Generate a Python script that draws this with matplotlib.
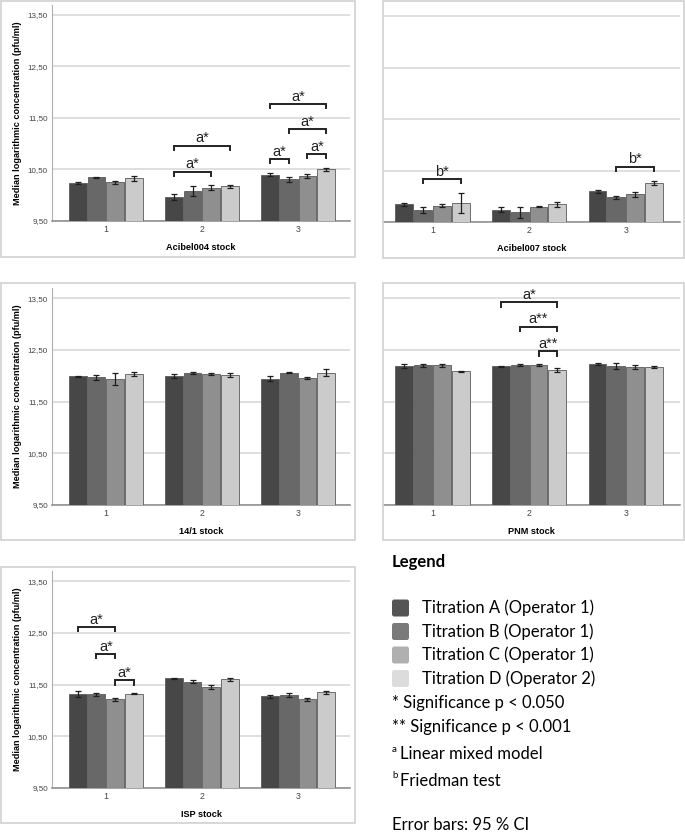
import matplotlib
matplotlib.use("Agg")
import matplotlib.pyplot as plt
from matplotlib.patches import Rectangle, FancyBboxPatch
import numpy as np

W, H = 685, 839

stocks = ["1", "2", "3"]
titrations = ["Titration A (Operator 1)", "Titration B (Operator 1)",
              "Titration C (Operator 1)", "Titration D (Operator 2)"]
y_ticks = [9.5, 10.5, 11.5, 12.5, 13.5]
y_tick_labels = ["9,50", "10,50", "11,50", "12,50", "13,50"]

# median log concentration per stock (rows) and titration (cols), with 95% CI half width
acibel004_vals = [[10.24, 10.35, 10.25, 10.33], [9.96, 10.08, 10.15, 10.17], [10.40, 10.31, 10.37, 10.50]]
acibel004_err = [[0.02, 0.01, 0.03, 0.05], [0.06, 0.10, 0.05, 0.02], [0.03, 0.05, 0.04, 0.02]]
acibel007_vals = [[9.84, 9.74, 9.82, 9.87], [9.74, 9.69, 9.80, 9.84], [10.10, 9.98, 10.04, 10.25]]
acibel007_err = [[0.03, 0.06, 0.03, 0.20], [0.05, 0.11, 0.01, 0.04], [0.03, 0.03, 0.05, 0.04]]
s14_1_vals = [[11.99, 11.97, 11.94, 12.03], [12.00, 12.05, 12.03, 12.01], [11.94, 12.06, 11.96, 12.06]]
s14_1_err = [[0.01, 0.05, 0.12, 0.04], [0.04, 0.02, 0.02, 0.04], [0.05, 0.01, 0.02, 0.07]]
pnm_vals = [[12.18, 12.20, 12.20, 12.09], [12.18, 12.21, 12.20, 12.11], [12.22, 12.19, 12.17, 12.17]]
pnm_err = [[0.04, 0.03, 0.03, 0.01], [0.01, 0.02, 0.02, 0.04], [0.02, 0.06, 0.04, 0.02]]
isp_vals = [[11.31, 11.31, 11.21, 11.32], [11.62, 11.55, 11.46, 11.60], [11.27, 11.29, 11.21, 11.35]]
isp_err = [[0.06, 0.03, 0.03, 0.01], [0.01, 0.03, 0.04, 0.03], [0.03, 0.04, 0.03, 0.03]]

# significance brackets: (stock, bar i, bar j, height, label)
acibel004_sig = [(2, 0, 2, 10.46, "a*"), (2, 0, 3, 10.96, "a*"), (3, 0, 1, 10.70, "a*"),
                 (3, 2, 3, 10.80, "a*"), (3, 1, 3, 11.28, "a*"), (3, 0, 3, 11.77, "a*")]
acibel007_sig = [(1, 1, 3, 10.33, "b*"), (3, 1, 3, 10.57, "b*")]
pnm_sig = [(2, 0, 3, 13.42, "a*"), (2, 1, 3, 12.95, "a**"), (2, 2, 3, 12.47, "a**")]
isp_sig = [(1, 0, 2, 12.61, "a*"), (1, 1, 2, 12.09, "a*"), (1, 2, 3, 11.58, "a*")]

bar_colors = ["#474747", "#686868", "#8f8f8f", "#cbcbcb"]
legend_colors = ["#555555", "#7a7a7a", "#b0b0b0", "#dcdcdc"]

FONT = "Liberation Sans"
fig = plt.figure(figsize=(W / 100, H / 100), dpi=100)


def px_axes(left, right, bottom, top):
    return fig.add_axes([left / W, 1 - bottom / H, (right - left) / W, (bottom - top) / H])


def frame(x0, y0, x1, y1):
    fig.patches.append(Rectangle((x0 / W, 1 - y1 / H), (x1 - x0) / W, (y1 - y0) / H,
                                 transform=fig.transFigure, fill=False,
                                 edgecolor="#d4d4d4", lw=1.3))


def panel(ax, vals, errs, sig, xlabel, show_y, xlim):
    vals = np.array(vals)
    errs = np.array(errs)
    x = np.arange(1, 4)
    step, width = 0.195, 0.185
    for k in range(4):
        pos = x + (k - 1.5) * step
        ax.bar(pos, vals[:, k] - 9.5, width, bottom=9.5, color=bar_colors[k],
               edgecolor="#5a5a5a", lw=0.6, zorder=3)
        ax.errorbar(pos, vals[:, k], yerr=errs[:, k], fmt="none", ecolor="#1e1e1e",
                    elinewidth=0.9, capsize=2.2, capthick=0.9, zorder=4)
    for g, i, j, y, lab in sig:
        x1 = g + (i - 1.5) * step
        x2 = g + (j - 1.5) * step
        ax.plot([x1, x1, x2, x2], [y - 0.08, y, y, y - 0.08], color="#222222", lw=1.4,
                zorder=5, solid_joinstyle="miter")
        ax.text((x1 + x2) / 2, y + 0.01, lab, ha="center", va="bottom", fontsize=10.5,
                family=FONT, color="#222222")
    ax.set_xlim(*xlim)
    ax.set_ylim(9.5, 13.7)
    ax.set_yticks(y_ticks)
    ax.set_xticks([1, 2, 3])
    ax.set_xticklabels(stocks, fontsize=6.3, family=FONT, color="#444444")
    ax.grid(axis="y", color="#d6d6d6", lw=1.1, zorder=0)
    ax.set_axisbelow(True)
    ax.tick_params(length=0, pad=3)
    for s in ["top", "right"]:
        ax.spines[s].set_visible(False)
    ax.spines["bottom"].set_color("#8a8a8a")
    ax.spines["bottom"].set_linewidth(1.1)
    if show_y:
        ax.set_yticklabels(y_tick_labels, fontsize=5.8, family=FONT, color="#444444")
        ax.spines["left"].set_color("#b0b0b0")
        ax.set_ylabel("Median logarithmic concentration (pfu/ml)", fontsize=6.6,
                      family=FONT, fontweight="bold", labelpad=4)
    else:
        ax.set_yticklabels([])
        ax.spines["left"].set_visible(False)
    ax.set_xlabel(xlabel, fontsize=6.6, family=FONT, fontweight="bold", labelpad=6.5)


frame(1, 1, 355, 257)
frame(383, 1, 684, 258)
frame(1, 283, 355, 540)
frame(383, 283, 684, 540)
frame(1, 567, 355, 823)

ax1 = px_axes(52, 350, 221, 4.7)
panel(ax1, acibel004_vals, acibel004_err, acibel004_sig, "Acibel004 stock", True, (0.44, 3.54))
ax2 = px_axes(383, 680, 222, 5.7)
panel(ax2, acibel007_vals, acibel007_err, acibel007_sig, "Acibel007 stock", False, (0.49, 3.56))
ax3 = px_axes(52, 350, 504.7, 288)
panel(ax3, s14_1_vals, s14_1_err, [], "14/1 stock", True, (0.44, 3.54))
ax4 = px_axes(383, 680, 504.7, 288)
panel(ax4, pnm_vals, pnm_err, pnm_sig, "PNM stock", False, (0.49, 3.56))
ax5 = px_axes(52, 350, 787.7, 571)
panel(ax5, isp_vals, isp_err, isp_sig, "ISP stock", True, (0.44, 3.54))

# legend block
LF = ["Lato", "DejaVu Sans"]
fig.text(392 / W, 1 - 562 / H, "Legend", fontsize=12, fontweight="bold", family=LF,
         va="center", ha="left")
for k, lab in enumerate(titrations):
    yc = 608 + k * 23.5
    fig.patches.append(FancyBboxPatch((392 / W, 1 - (yc + 8.5) / H), 17 / W, 17 / H,
                                      boxstyle="round,pad=0,rounding_size=0.003",
                                      transform=fig.transFigure, facecolor=legend_colors[k],
                                      edgecolor="none"))
    fig.text(422 / W, 1 - yc / H, lab, fontsize=12, family=LF, va="center", ha="left")
fig.text(392 / W, 1 - 703 / H, "* Significance p < 0.050", fontsize=12, family=LF, va="center")
fig.text(392 / W, 1 - 727 / H, "** Significance p < 0.001", fontsize=12, family=LF, va="center")
fig.text(392 / W, 1 - 749 / H, "a", fontsize=7, family=LF, va="center")
fig.text(400 / W, 1 - 754 / H, "Linear mixed model", fontsize=12, family=LF, va="center")
fig.text(392 / W, 1 - 776 / H, "b", fontsize=7, family=LF, va="center")
fig.text(400 / W, 1 - 781 / H, "Friedman test", fontsize=12, family=LF, va="center")
fig.text(392 / W, 1 - 825 / H, "Error bars: 95 % CI", fontsize=12, family=LF, va="center")

fig.savefig("out.png", dpi=100, facecolor="white")
